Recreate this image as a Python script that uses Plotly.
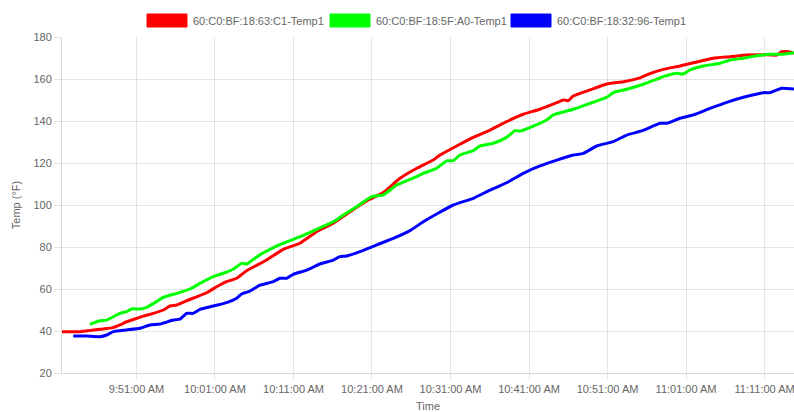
import plotly.graph_objects as go

DATE = "2021-01-01 "

series_names = ["60:C0:BF:18:63:C1-Temp1", "60:C0:BF:18:5F:A0-Temp1", "60:C0:BF:18:32:96-Temp1"]
series_colors = ["#ff0000", "#00ff00", "#0000ff"]

red_times = ["09:41:31","09:43:48","09:45:30","09:46:46","09:48:00","09:48:54","09:49:45","09:51:02","09:51:52","09:53:08","09:54:25","09:55:16","09:56:07","09:57:24","09:58:40","09:59:56","10:01:13","10:02:29","10:03:46","10:05:02","10:07:35","10:09:42","10:11:50","10:13:57","10:16:04","10:18:12","10:20:19","10:22:26","10:24:34","10:26:42","10:28:48","10:29:40","10:31:47","10:33:54","10:36:02","10:38:09","10:40:16","10:42:24","10:44:32","10:45:22","10:46:00","10:46:38","10:48:46","10:50:54","10:53:01","10:55:08","10:55:59","10:58:06","11:00:14","11:02:22","11:04:28","11:06:36","11:08:44","11:10:51","11:12:33","11:13:11","11:14:15","11:14:45"]
red_vals = [39.7,39.7,40.5,41.0,41.6,42.9,44.4,46.0,47.1,48.4,50.0,51.9,52.4,54.4,56.3,58.2,61.1,63.5,65.1,68.7,73.8,78.9,81.8,87.3,91.3,96.8,101.9,105.9,112.7,117.5,121.4,123.8,128.1,132.2,135.7,139.7,143.2,145.6,148.7,150.0,149.7,151.9,154.8,157.6,158.7,160.5,162.0,164.6,166.2,168.1,169.9,170.6,171.4,171.6,171.4,173.0,172.9,172.2]

green_times = ["09:45:05","09:46:21","09:47:12","09:48:03","09:48:54","09:49:45","09:50:23","09:51:27","09:52:18","09:53:34","09:54:25","09:56:07","09:57:49","09:59:05","10:00:47","10:02:03","10:03:20","10:04:24","10:05:02","10:05:53","10:06:44","10:08:00","10:09:42","10:11:50","10:13:57","10:16:04","10:17:21","10:19:03","10:20:58","10:22:26","10:24:09","10:25:50","10:26:42","10:27:32","10:29:14","10:30:31","10:31:21","10:32:12","10:33:54","10:34:45","10:36:27","10:38:09","10:39:13","10:39:51","10:41:33","10:43:15","10:44:06","10:46:38","10:48:46","10:50:54","10:51:44","10:53:27","10:55:33","10:57:16","10:58:06","10:59:49","11:00:39","11:01:30","11:03:12","11:05:20","11:06:36","11:08:18","11:10:00","11:11:42","11:13:23","11:14:45"]
green_vals = [43.2,44.9,45.2,46.8,48.4,49.2,50.5,50.5,51.3,54.0,56.0,57.9,60.0,62.7,65.9,67.5,69.4,72.2,71.9,74.1,76.3,78.9,81.8,84.9,88.4,92.0,95.2,99.2,104.0,104.8,109.5,112.2,113.5,115.1,117.5,121.0,121.1,123.8,125.9,128.1,129.4,132.2,135.4,135.2,137.6,140.5,142.9,145.6,148.4,151.3,153.5,155.1,157.5,159.9,161.1,162.7,162.4,164.3,166.2,167.5,169.0,169.9,171.1,171.8,171.8,172.5]

blue_times = ["09:42:57","09:44:39","09:46:21","09:47:12","09:48:03","09:49:45","09:51:27","09:52:43","09:54:00","09:55:41","09:56:32","09:57:24","09:58:14","09:59:05","10:00:47","10:02:29","10:03:46","10:04:24","10:05:27","10:06:44","10:08:26","10:09:17","10:10:08","10:10:58","10:12:41","10:14:22","10:16:04","10:16:55","10:17:47","10:19:28","10:21:36","10:23:43","10:25:50","10:27:32","10:29:14","10:31:21","10:33:54","10:36:02","10:38:09","10:40:16","10:42:24","10:44:32","10:46:38","10:47:55","10:49:37","10:51:44","10:53:27","10:55:33","10:57:41","10:58:32","11:00:14","11:01:56","11:04:03","11:06:11","11:08:18","11:10:51","11:11:42","11:13:11","11:14:45"]
blue_vals = [37.6,37.6,37.3,38.1,39.7,40.5,41.3,42.9,43.3,45.2,45.6,48.4,48.4,50.3,51.9,53.5,55.6,57.6,59.0,61.8,63.5,65.1,65.1,67.0,69.0,71.9,73.8,75.4,75.7,77.8,81.0,84.1,87.8,92.0,95.7,100.0,103.2,107.1,110.6,115.1,118.6,121.4,123.8,124.6,128.1,130.2,133.3,135.5,138.9,138.9,141.3,142.9,146.0,148.9,151.3,153.5,153.5,155.6,155.2]

x_range = ["09:41:31", "11:14:45"]
first_tick = "09:51:00"
y_range = [20, 180]

all_times = [red_times, green_times, blue_times]
all_vals = [red_vals, green_vals, blue_vals]

W, H = 794, 412
ML, MR, MT, MB = 62, 0, 37, 39
PW, PH = W - ML - MR, H - MT - MB

TXT = "#666666"
GRID = "rgba(0,0,0,0.1)"
FONT = "Liberation Sans, Arial, Helvetica, sans-serif"

fig = go.Figure()
for name, color, ts, vs in zip(series_names, series_colors, all_times, all_vals):
    fig.add_trace(go.Scatter(
        x=[DATE + t for t in ts], y=vs, mode="lines", name=name,
        line=dict(color=color, width=3, shape="spline", smoothing=0.5),
        showlegend=False, cliponaxis=True,
    ))

def px_x(p):
    return (p - ML) / PW

def px_y(p):
    return (H - MB - p) / PH

# custom Chart.js-like legend (boxes + labels)
legend_box_left = [147, 330, 511]
shapes, annotations = [], []
for name, color, bx in zip(series_names, series_colors, legend_box_left):
    shapes.append(dict(type="rect", xref="paper", yref="paper",
                       x0=px_x(bx), x1=px_x(bx + 40), y0=px_y(27), y1=px_y(14),
                       fillcolor=color, line=dict(color=color, width=1)))
    annotations.append(dict(xref="paper", yref="paper", x=px_x(bx + 44), y=px_y(20.5),
                            xanchor="left", yanchor="middle", text=name, showarrow=False,
                            font=dict(size=11, color=TXT, family=FONT)))

fig.update_layout(
    width=W, height=H,
    margin=dict(l=ML, r=MR, t=MT, b=MB, autoexpand=False),
    paper_bgcolor="white", plot_bgcolor="white",
    font=dict(family=FONT, size=11, color=TXT),
    shapes=shapes, annotations=annotations,
    xaxis=dict(
        type="date", range=[DATE + x_range[0], DATE + x_range[1]],
        tick0=DATE + first_tick, dtick=600000, tickformat="%-I:%M:%S %p",
        showgrid=True, gridcolor=GRID, gridwidth=1,
        ticks="outside", ticklen=6, tickcolor=GRID,
        showline=True, linecolor="rgba(0,0,0,0.15)", linewidth=1,
        zeroline=False, tickfont=dict(size=11, color=TXT),
        ticklabeloverflow="allow",
        title=dict(text="Time", font=dict(size=11, color=TXT), standoff=9),
        automargin=False,
    ),
    yaxis=dict(
        range=y_range, dtick=20, tick0=20,
        showgrid=True, gridcolor=GRID, gridwidth=1,
        ticks="outside", ticklen=7, tickcolor=GRID,
        showline=True, linecolor="rgba(0,0,0,0.15)", linewidth=1,
        zeroline=False, tickfont=dict(size=11, color=TXT),
        title=dict(text="Temp (°F)", font=dict(size=11, color=TXT), standoff=10),
        automargin=False,
    ),
)

fig.write_html(
    "out.html",
    config={"displayModeBar": False},
    post_script="document.body.style.margin='0';document.body.style.overflow='hidden';",
)
